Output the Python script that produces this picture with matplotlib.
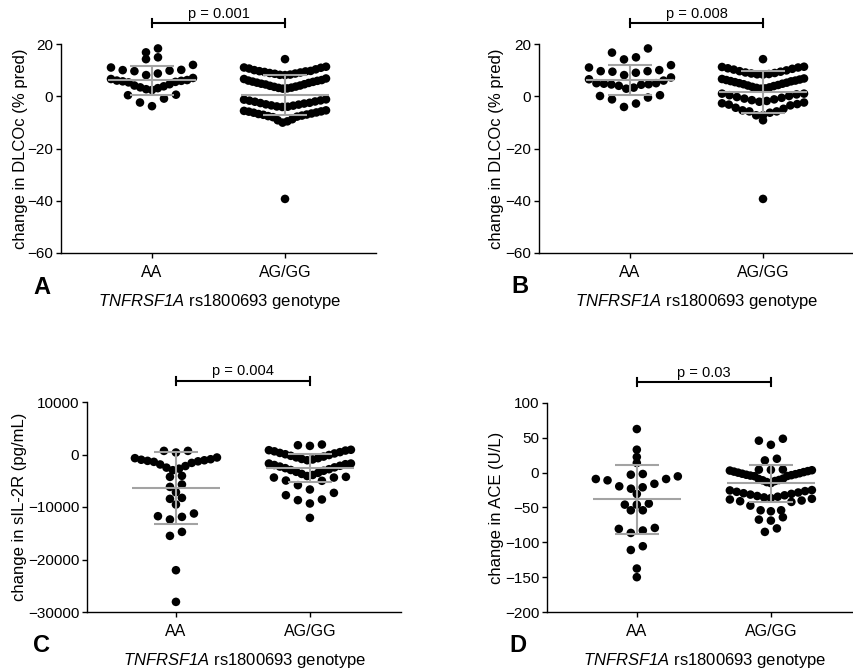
"""
Scatter-dot panels A-D: change in DLCOc / sIL-2R / ACE by TNFRSF1A rs1800693 genotype
Writes: out.png
"""
import matplotlib
matplotlib.use("Agg")
import matplotlib.pyplot as plt
import numpy as np

plt.rcParams["font.family"] = ["Liberation Sans", "DejaVu Sans"]
plt.rcParams["mathtext.fontset"] = "custom"
plt.rcParams["mathtext.rm"] = "Liberation Sans"
# \mathsf als Kursiv-Schrift, damit auch die Ziffer in TNFRSF1A kursiv wird
plt.rcParams["mathtext.sf"] = "Liberation Sans:italic"

W, H = 854, 672
SCHWARZ = "#000000"
GRAU = "#a3a3a3"

GROUPS = ["AA", "AG/GG"]
XLABEL = r"$\mathsf{TNFRSF1A}$ rs1800693 genotype"

# --- Panel A: change in DLCOc (% pred)
A_AA = [18.3, 16.8, 14.9, 14.2, 12.0, 11.0, 10.0, 10.1, 9.6, 9.8, 8.7, 8.1, 7.0,
        6.6, 6.2, 6.0, 5.9, 5.7, 5.5, 5.3, 4.6, 4.1, 3.8, 3.4, 3.1, 2.7, 2.4,
        0.6, 0.4, -0.9, -2.4, -3.8]
A_AG = [14.2, 11.3, 11.0, 10.9,
        10.6, 10.3, 10.0, 9.7, 9.6, 9.3, 9.1, 8.9, 8.7, 8.6, 8.3, 8.2, 8.1, 9.5,
        6.8, 6.6, 6.2, 6.0, 5.9, 5.6, 5.5, 5.2, 5.1, 4.8, 4.6, 4.5, 4.1, 4.0,
        3.7, 3.6, 3.3, 3.2, 3.0, 2.9,
        -1.2, -1.3, -1.6, -1.7, -2.0, -2.1, -2.5, -2.6, -2.8, -3.1, -3.2, -3.5,
        -3.6, -3.9, -4.0, -4.1,
        -5.4, -5.6, -5.8, -5.9, -6.2, -6.3, -6.6, -6.8, -7.0, -7.1, -7.4, -7.6,
        -7.8, -8.0, -8.8, -9.2, -9.6, -10.1, -39.3]
A_MEAN = [6.1, 0.4]
A_SD = [5.5, 7.7]

# --- Panel B: change in DLCOc (% pred)
B_AA = [18.3, 16.7, 14.9, 14.1, 11.9, 11.0, 10.0, 9.6, 9.6, 9.4, 9.0, 8.1, 7.2,
        6.5, 6.0, 5.0, 5.0, 4.8, 4.6, 4.5, 4.4, 4.0, 3.3, 2.9, 0.4, 0.1, -0.5,
        -1.2, -2.8, -4.1]
B_AG = [14.2,
        11.3, 11.2, 11.0, 10.7, 10.5, 10.2, 9.9, 9.6, 9.4, 9.1, 8.9, 8.7, 8.5,
        8.4, 8.3,
        6.8, 6.6, 6.4, 6.2, 6.0, 5.8, 5.7, 5.4, 5.2, 5.0, 4.8, 4.6, 4.3, 4.1,
        3.9, 3.6, 3.4, 3.2, 3.0, 2.9,
        1.0, 1.0, 0.7, 0.4, 0.1, -0.3, -0.6, -0.9, -1.2, -1.5, -1.8, -2.1, -2.4,
        -2.7, -3.0, -3.2, -3.5, -4.4,
        -4.8, -5.4, -5.8, -5.8, -6.3, -7.3, -7.3, -9.2, -39.3]
B_MEAN = [6.2, 1.6]
B_SD = [5.8, 8.0]

# --- Panel C: change in sIL-2R (pg/mL)
C_AA = [690, 690, 380, -570, -700, -900, -1000, -1100, -1210, -1300, -1400,
        -1600, -1900, -2200, -2500, -2700, -2990, -4070, -4260, -5710, -6170,
        -7180, -8260, -8450, -9530, -11240, -11750, -11880, -12380, -14740,
        -15500, -22040, -28070]
C_AG = [1900, 1770, 1640,
        900, 820, 750, 600, 450, 300, 200, 50, -100, -250, -400, -550, -700,
        -850, -950, -1090,
        -1720, -1720, -1850, -2000, -2150, -2300, -2450, -2600, -2800, -2950,
        -3100, -3300, -3500, -3700, -3900, -4100, -4260,
        -4390, -4390, -4960, -5010, -5840, -6670, -7310, -7750, -8570, -8700,
        -9330, -12070]
C_MEAN = [-6350, -2540]
C_SD = [6800, 2730]

# --- Panel D: change in ACE (U/L)
D_AA = [62.6, 33.0, 22.5, 13.9, -1.9, -2.9, -5.3, -9.1, -9.1, -11.0, -16.0,
        -19.6, -21.0, -23.0, -30.6, -44.4, -45.9, -45.9, -54.0, -54.0, -79.3,
        -80.7, -83.0, -86.5, -105.6, -111.0, -137.6, -150.0]
D_AG = [48.7, 45.9, 40.0, 20.0, 17.6,
        4.5, 4.3, 4.0, 3.5, 3.0, 2.2, 1.5, 0.8, 0.0, -0.8, -1.5, -2.2, -3.0,
        -3.6, -4.2, -4.8, -5.0,
        -8.5, -9.0, -10.5, -11.0, -12.0, -13.5, -15.0,
        -25.0, -25.5, -26.5, -27.5, -28.5, -29.5, -30.5, -31.5, -32.5, -33.5,
        -34.5, -35.5, -36.5, -37.5, -38.5, -40.0, -41.0, -42.0,
        -47.3, -54.0, -54.0, -55.4, -64.0, -67.4, -68.8, -80.0, -85.0]
D_MEAN = [-38.5, -15.5]
D_SD = [50.0, 27.0]

P_TEXT = ["p = 0.001", "p = 0.008", "p = 0.004", "p = 0.03"]


def _swarm(center, vals, ppu_x, ppu_y):
    """GraphPad-artige Zeilenanordnung: Punkte in Zeilen, tiefste Werte mittig."""
    v = np.asarray(vals, float)
    order = np.argsort(v, kind="stable")
    span, gap = 13.0 / ppu_y, 4.8 / ppu_y
    step0, max_half = 12.0 / ppu_x, 41.0 / ppu_x
    bins, cur = [], [order[0]]
    for i in order[1:]:
        if v[i] - v[cur[-1]] > gap or v[i] - v[cur[0]] > span:
            bins.append(cur)
            cur = [i]
        else:
            cur.append(i)
    bins.append(cur)
    x = np.full(len(v), float(center))
    for b in bins:
        k = len(b)
        if k == 1:
            continue
        step = min(step0, 2 * max_half / (k - 1))
        slots = sorted(np.arange(k) - (k - 1) / 2, key=abs)
        for idx, s in zip(b, slots):
            x[idx] = center + s * step
    return x


def _panel(fig, rect_px, xlim, ylim, yticks, data, means, sds, ylabel,
           ylabel_x, letter, ptext, letter_xy, xlabel_xy):
    x0, x1, y0, y1 = rect_px
    ax = fig.add_axes([x0 / W, 1 - y1 / H, (x1 - x0) / W, (y1 - y0) / H])
    ax.set_xlim(*xlim)
    ax.set_ylim(*ylim)
    ppu_x = (x1 - x0) / (xlim[1] - xlim[0])
    ppu_y = (y1 - y0) / (ylim[1] - ylim[0])

    for i, vals in enumerate(data):
        c = i + 1
        xs = _swarm(c, vals, ppu_x, ppu_y)
        ax.scatter(xs, vals, s=38, color=SCHWARZ, edgecolors="none",
                   zorder=2, clip_on=False)
        m, sd = means[i], sds[i]
        ax.hlines(m, c - 0.33, c + 0.33, color=GRAU, lw=1.5, zorder=3)
        ax.hlines([m - sd, m + sd], c - 0.165, c + 0.165, color=GRAU, lw=1.5,
                  zorder=3)
        ax.vlines(c, m - sd, m + sd, color=GRAU, lw=1.5, zorder=3)

    ax.set_xticks([1, 2])
    ax.set_xticklabels(GROUPS)
    ax.set_yticks(yticks)
    ax.spines[["top", "right"]].set_visible(False)
    for s in ("left", "bottom"):
        ax.spines[s].set_linewidth(1.0)
    ax.tick_params(direction="out", length=3.6, width=1.0, labelsize=11)
    ax.tick_params(axis="y", pad=2)
    ax.tick_params(axis="x", pad=5, labelsize=11.5)

    ax.set_ylabel(ylabel, fontsize=12, va="center")
    ax.yaxis.set_label_coords(ylabel_x, 0.5)

    # Signifikanz-Klammer
    tr = ax.get_xaxis_transform()
    ax.plot([1, 2], [1.10, 1.10], color=SCHWARZ, lw=1.5, transform=tr,
            clip_on=False)
    for c in (1, 2):
        ax.plot([c, c], [1.08, 1.12], color=SCHWARZ, lw=1.5, transform=tr,
                clip_on=False)
    ax.text(1.5, 1.112, ptext, transform=tr, ha="center", va="bottom",
            fontsize=10.5)

    fig.text(letter_xy[0] / W, 1 - letter_xy[1] / H, letter,
             fontsize=17, fontweight="bold", ha="center", va="center")
    fig.text(xlabel_xy[0] / W, 1 - xlabel_xy[1] / H, XLABEL, fontsize=12,
             ha="center", va="center")
    return ax


def build():
    fig = plt.figure(figsize=(W / 100, H / 100), dpi=100, facecolor="white")
    dl = "change in DLCOc (% pred)"

    _panel(fig, (61, 376, 44, 253), (0.316, 2.684), (-60, 20),
           [-60, -40, -20, 0, 20], [A_AA, A_AG], A_MEAN, A_SD, dl, -0.130,
           "A", P_TEXT[0], (42, 288), (220, 301))
    _panel(fig, (539, 854, 44, 253), (0.316, 2.684), (-60, 20),
           [-60, -40, -20, 0, 20], [B_AA, B_AG], B_MEAN, B_SD, dl, -0.135,
           "B", P_TEXT[1], (520, 287), (697, 301))
    _panel(fig, (87, 401, 402, 612), (0.336, 2.68), (-30000, 10000),
           [-30000, -20000, -10000, 0, 10000], [C_AA, C_AG], C_MEAN, C_SD,
           "change in sIL-2R (pg/mL)", -0.215, "C", P_TEXT[2], (42, 645),
           (245, 660))
    _panel(fig, (547, 854, 403, 612), (0.33, 2.62), (-200, 100),
           [-200, -150, -100, -50, 0, 50, 100], [D_AA, D_AG], D_MEAN, D_SD,
           "change in ACE (U/L)", -0.165, "D", P_TEXT[3], (518, 645),
           (705, 660))

    fig.savefig("out.png", dpi=100, facecolor="white")


if __name__ == "__main__":
    build()
